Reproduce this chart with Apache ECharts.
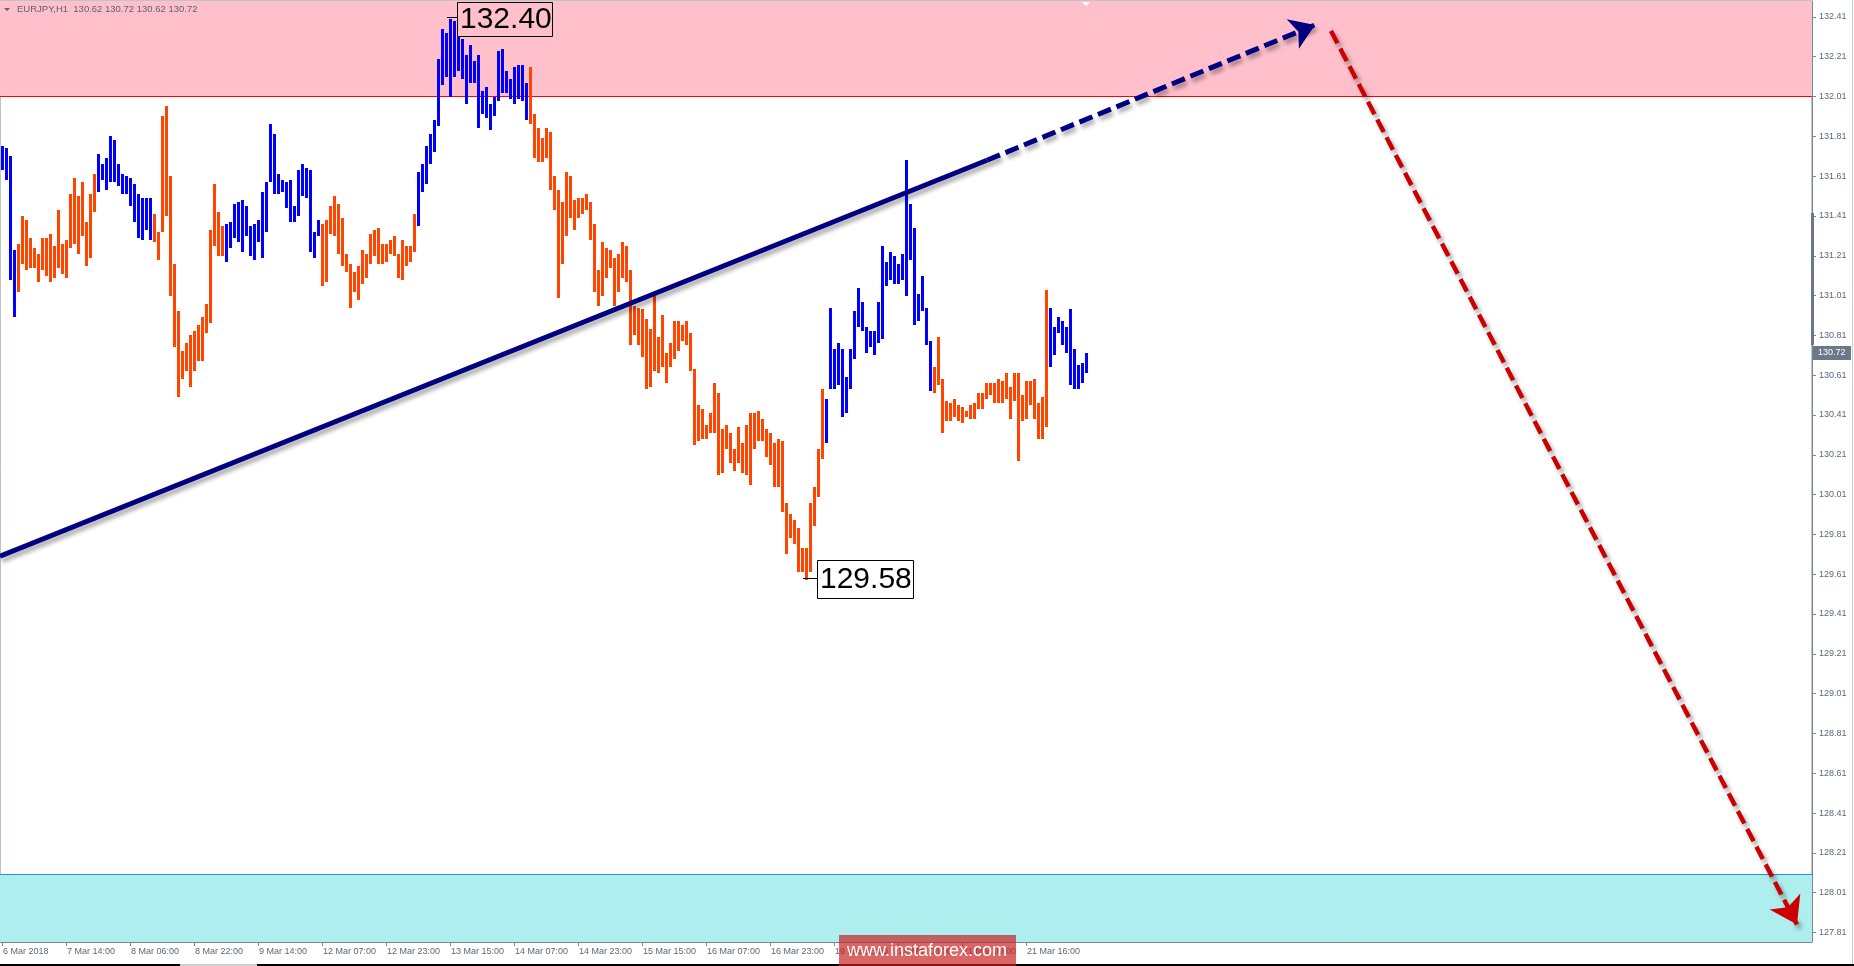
<!DOCTYPE html>
<html><head><meta charset="utf-8">
<script src="https://cdn.jsdelivr.net/npm/echarts@6/dist/echarts.min.js"></script>
<style>html,body{margin:0;padding:0;background:#fff}#c{width:1854px;height:966px}</style>
</head><body><div id="c"></div>
<script>
// ---- data (EURJPY H1 bars: high / low) ----
const highs = [
131.76,131.75,131.71,131.24,131.27,131.41,131.39,131.30,131.25,131.22,
131.30,131.30,131.32,131.26,131.44,131.27,131.29,131.52,131.60,131.51,
131.58,131.38,131.52,131.62,131.72,131.67,131.70,131.81,131.79,131.67,
131.62,131.61,131.60,131.57,131.52,131.50,131.50,131.50,131.42,131.33,
131.91,131.96,131.61,131.17,130.93,130.73,130.77,130.81,130.83,130.86,
130.90,130.97,131.34,131.57,131.43,131.36,131.37,131.38,131.47,131.48,
131.49,131.46,131.36,131.37,131.39,131.53,131.58,131.87,131.82,131.62,
131.59,131.58,131.59,131.46,131.64,131.67,131.65,131.64,131.33,131.39,
131.37,131.39,131.46,131.51,131.47,131.40,131.22,131.17,131.13,131.16,
131.24,131.22,131.32,131.34,131.35,131.27,131.27,131.29,131.31,131.22,
131.29,131.26,131.26,131.42,131.63,131.67,131.76,131.82,131.89,132.20,
132.35,132.33,132.40,132.39,132.31,132.30,132.22,132.27,132.19,132.22,
132.04,132.06,131.97,132.01,132.24,132.25,132.14,132.10,132.16,132.17,
132.17,132.08,132.16,131.92,131.85,131.80,131.85,131.83,131.61,131.54,
131.48,131.63,131.61,131.49,131.50,131.50,131.52,131.48,131.37,131.14,
131.28,131.25,131.24,131.20,131.22,131.28,131.26,131.14,130.96,130.95,
130.94,130.89,130.84,131.01,130.80,130.91,130.72,130.77,130.88,130.88,
130.86,130.88,130.82,130.64,130.46,130.44,130.36,130.42,130.57,130.52,
130.34,130.36,130.32,130.24,130.35,130.27,130.36,130.42,130.42,130.43,
130.39,130.34,130.32,130.27,130.29,130.28,129.97,129.91,129.88,129.84,
129.74,129.74,129.97,130.05,130.24,130.54,130.49,130.95,130.74,130.77,
130.74,130.60,130.74,130.93,131.05,130.98,130.85,130.83,130.83,130.98,
131.26,131.18,131.23,131.21,131.17,131.22,131.69,131.47,131.35,131.02,
131.11,130.95,130.78,130.65,130.80,130.59,130.48,130.47,130.49,130.46,
130.45,130.43,130.46,130.47,130.52,130.52,130.57,130.57,130.57,130.59,
130.58,130.62,130.55,130.62,130.62,130.51,130.58,130.58,130.59,130.47,
130.50,131.04,130.95,130.85,130.90,130.88,130.85,130.94,130.74,130.66,
130.67,130.72];
const lows = [
131.64,131.59,131.09,130.90,131.03,131.17,131.14,131.15,131.15,131.08,
131.14,131.11,131.08,131.10,131.15,131.12,131.10,131.25,131.27,131.22,
131.31,131.16,131.20,131.43,131.53,131.59,131.54,131.58,131.58,131.56,
131.52,131.52,131.46,131.38,131.30,131.29,131.34,131.29,131.28,131.19,
131.33,131.41,131.01,130.75,130.50,130.59,130.63,130.55,130.63,130.68,
130.68,130.82,130.87,131.26,131.21,131.21,131.18,131.25,131.30,131.28,
131.23,131.31,131.21,131.19,131.28,131.20,131.33,131.58,131.52,131.52,
131.53,131.45,131.38,131.38,131.41,131.51,131.50,131.23,131.20,131.31,
131.06,131.08,131.32,131.31,131.22,131.16,131.13,130.95,131.03,130.99,
131.07,131.10,131.17,131.21,131.17,131.17,131.18,131.22,131.21,131.10,
131.09,131.16,131.18,131.23,131.36,131.53,131.57,131.67,131.73,131.86,
132.07,132.11,132.01,132.11,132.14,132.10,131.97,132.08,132.08,131.85,
131.92,131.90,131.84,131.91,131.99,132.03,132.03,132.00,131.97,132.00,
131.99,131.89,131.87,131.70,131.68,131.68,131.70,131.54,131.44,131.00,
131.17,131.31,131.40,131.34,131.40,131.42,131.44,131.29,131.03,130.96,
131.01,131.10,131.15,130.96,131.03,131.10,131.08,130.76,130.81,130.76,
130.70,130.54,130.55,130.63,130.62,130.65,130.57,130.65,130.69,130.73,
130.78,130.76,130.63,130.26,130.28,130.29,130.29,130.32,130.32,130.11,
130.12,130.24,130.17,130.13,130.17,130.12,130.11,130.06,130.24,130.28,
130.28,130.20,130.16,130.05,130.05,129.92,129.71,129.79,129.76,129.62,
129.62,129.58,129.62,129.85,130.00,130.19,130.27,130.54,130.54,130.56,
130.40,130.42,130.54,130.69,130.85,130.83,130.72,130.75,130.71,130.77,
130.79,131.06,131.09,131.07,131.07,131.09,131.01,131.19,130.86,130.88,
130.93,130.76,130.53,130.52,130.56,130.32,130.38,130.38,130.40,130.38,
130.37,130.40,130.39,130.39,130.44,130.44,130.49,130.51,130.47,130.47,
130.47,130.49,130.39,130.48,130.18,130.38,130.39,130.46,130.39,130.29,
130.29,130.35,130.65,130.71,130.82,130.76,130.72,130.56,130.54,130.54,
130.57,130.62];
// wave colouring runs, alternating: blue (up wave) / orange (down wave)
const waveRuns = [4, 20, 14, 18, 24, 24, 28, 74, 27, 29, 10];

const xTickIdx = [0,16,32,48,64,80,96,112,128,144,160,176,192,208,224,240,256];
const xTickLabels = ['6 Mar 2018','7 Mar 14:00','8 Mar 06:00','8 Mar 22:00','9 Mar 14:00',
  '12 Mar 07:00','12 Mar 23:00','13 Mar 15:00','14 Mar 07:00','14 Mar 23:00','15 Mar 15:00',
  '16 Mar 07:00','16 Mar 23:00','19 Mar 16:00','20 Mar 08:00','21 Mar 00:00','21 Mar 16:00'];
const yTicks = [127.81,128.01,128.21,128.41,128.61,128.81,129.01,129.21,129.41,129.61,129.81,
  130.01,130.21,130.41,130.61,130.81,131.01,131.21,131.41,131.61,131.81,132.01,132.21,132.41];

const resistanceLevel = 132.01;   // pink zone from here up
const supportLevel = 128.10;      // cyan zone from here down
const trendSolid = [[-0.5, 129.70], [246.25, 131.69]];
const trendDashed = [[246.25, 131.69], [328.25, 132.37]];
const forecastPath = [[332.25, 132.34], [448.75, 127.85]];
const extremes = [[112, 132.40, 'hi'], [201, 129.58, 'lo']];
const lastPrice = 130.72;
const titleText = 'EURJPY,H1  130.62 130.72 130.62 130.72';

// ---- build ----
const BLUE = '#0000ff', ORANGE = '#ff4500';
const waveOf = [];
waveRuns.forEach((n, k) => { for (let j = 0; j < n; j++) waveOf.push(k % 2); });
const barData = highs.map((h, i) => [i, h, lows[i], waveOf[i]]);

const chart = echarts.init(document.getElementById('c'), null, {renderer: 'canvas'});
const FONT = 'Liberation Sans, Arial, sans-serif';
const AXC = '#788898', TXC = '#5a6878';

function renderBar(params, api) {
  const i = api.value(0);
  const t = api.coord([i, api.value(1)]);
  const b = api.coord([i, api.value(2)]);
  const x = Math.round(t[0] - 1.5);
  const y0 = Math.round(t[1]), y1 = Math.round(b[1]);
  return {type: 'rect', shape: {x: x, y: y0, width: 3, height: Math.max(1, y1 - y0)},
    style: {fill: api.value(3) ? ORANGE : BLUE}};
}

function renderExt(params, api) {
  const p = api.coord([api.value(0), api.value(1)]);
  const hi = params.dataIndex === 0;
  const txt = api.value(1).toFixed(2);
  const bx = Math.round(p[0]) + (hi ? 7 : 11);
  const by = Math.round(p[1]) + (hi ? -17 : -20);
  const bw = hi ? 95 : 96, bh = hi ? 34 : 38;
  const ly = Math.round(p[1]) - 2 + 0.5;
  return {type: 'group', children: [
    {type: 'line', shape: {x1: Math.round(p[0]) - 3, y1: ly, x2: bx, y2: ly}, style: {stroke: '#000', lineWidth: 1}},
    {type: 'rect', shape: {x: bx + 0.5, y: by + 0.5, width: bw, height: bh},
      style: {fill: hi ? 'rgba(0,0,0,0)' : '#fff', stroke: '#000', lineWidth: 1}},
    {type: 'text', style: {x: bx + 3, y: by + bh / 2 + 1, text: txt, fill: '#000',
      font: '30px ' + FONT, textVerticalAlign: 'middle', textAlign: 'left'}}
  ]};
}

function renderTag(params, api) {
  const cs = params.coordSys;
  const p = api.coord([0, api.value(1)]);
  const x = cs.x + cs.width + 1, y = Math.round(p[1]) - 7;
  return {type: 'group', children: [
    {type: 'rect', shape: {x: x, y: y, width: 38, height: 14}, style: {fill: '#6a7887'}},
    {type: 'text', style: {x: x + 5, y: y + 7, text: api.value(1).toFixed(2), fill: '#fff',
      font: '9px ' + FONT, textVerticalAlign: 'middle'}}
  ]};
}

const option = {
  animation: false,
  backgroundColor: '#fff',
  grid: {left: 0, top: 1, width: 1812, height: 941, show: true, borderColor: AXC, borderWidth: 1},
  xAxis: {
    type: 'value', min: -0.5, max: 452.5,
    axisLine: {show: true, onZero: false, lineStyle: {color: AXC}},
    axisTick: {show: true, customValues: xTickIdx, length: 4, lineStyle: {color: AXC}},
    axisLabel: {customValues: xTickIdx, color: TXC, fontSize: 9, fontFamily: FONT, align: 'left', margin: 5,
      padding: [0, 0, 0, 1],
      formatter: v => { const k = xTickIdx.indexOf(Math.round(v)); return k >= 0 ? xTickLabels[k] : ''; }},
    splitLine: {show: false}
  },
  yAxis: {
    type: 'value', position: 'right', min: 127.762, max: 132.49,
    axisLine: {show: true, onZero: false, lineStyle: {color: AXC}},
    axisTick: {show: true, customValues: yTicks, length: 4, lineStyle: {color: AXC}},
    axisLabel: {customValues: yTicks, color: TXC, fontSize: 9, fontFamily: FONT, margin: 7,
      formatter: v => v.toFixed(2)},
    splitLine: {show: false}
  },
  series: [
    {
      type: 'custom', name: 'bars', renderItem: renderBar, data: barData, z: 2,
      encode: {x: 0, y: [1, 2]},
      markArea: {silent: true, z: 1, data: [
        [{xAxis: -0.5, yAxis: resistanceLevel, itemStyle: {color: '#ffc0cb'}}, {xAxis: 452.5, yAxis: 132.49}],
        [{xAxis: -0.5, yAxis: 127.762, itemStyle: {color: '#afeeee'}}, {xAxis: 452.5, yAxis: supportLevel}]
      ]},
      markLine: {silent: true, z: 1, symbol: 'none', label: {show: false}, data: [
        {yAxis: resistanceLevel, lineStyle: {color: '#ff0000', width: 1, type: 'solid'}},
        {yAxis: supportLevel, lineStyle: {color: '#1e90ff', width: 1, type: 'solid'}}
      ]}
    },
    {
      type: 'line', name: 'trend', data: trendSolid, showSymbol: false, z: 5, silent: true,
      lineStyle: {color: '#000080', width: 5, cap: 'butt',
        shadowColor: 'rgba(0,0,0,0.35)', shadowBlur: 4, shadowOffsetX: 2, shadowOffsetY: 4}
    },
    {
      type: 'lines', coordinateSystem: 'cartesian2d', z: 5, silent: true,
      symbol: ['none', 'arrow'], symbolSize: 24,
      data: [{coords: trendDashed}],
      lineStyle: {color: '#000080', width: 5, type: [14, 6], opacity: 1,
        shadowColor: 'rgba(0,0,0,0.35)', shadowBlur: 4, shadowOffsetX: 2, shadowOffsetY: 4}
    },
    {
      type: 'lines', coordinateSystem: 'cartesian2d', z: 5, silent: true,
      symbol: ['none', 'arrow'], symbolSize: 26,
      data: [{coords: forecastPath}],
      lineStyle: {color: '#cc0000', width: 4.5, type: [14, 6], opacity: 1,
        shadowColor: 'rgba(0,0,0,0.35)', shadowBlur: 4, shadowOffsetX: 3, shadowOffsetY: 4}
    },
    {type: 'custom', name: 'extremes', renderItem: renderExt, data: extremes.map(e => [e[0], e[1]]), z: 6, silent: true},
    {type: 'custom', name: 'lastPrice', renderItem: renderTag, data: [[271, lastPrice]], z: 6, silent: true, clip: false}
  ],
  graphic: [
    {type: 'polygon', z: 100, shape: {points: [[4, 8], [10, 8], [7, 11]]}, style: {fill: '#5a6470'}},
    {type: 'text', z: 100, left: 17, top: 4, style: {text: titleText, fill: '#5a6470', font: '9.5px ' + FONT}},
    {type: 'polygon', z: 100, shape: {points: [[1082, 2], [1090, 2], [1086, 6]]}, style: {fill: '#fff'}},
    {type: 'rect', z: 100, shape: {x: 1811, y: 213, width: 3, height: 132}, style: {fill: '#6a7887'}},
    {type: 'rect', shape: {x: 839, y: 935, width: 177, height: 31}, style: {fill: 'rgba(200,30,30,0.68)'}, z: 50},
    {type: 'text', x: 927, y: 951, z: 51, style: {text: 'www.instaforex.com', fill: '#fff', font: '18px ' + FONT,
      textAlign: 'center', textVerticalAlign: 'middle'}},
    {type: 'rect', shape: {x: 0, y: 964, width: 1854, height: 2}, style: {fill: '#000'}, z: 40},
    {type: 'rect', shape: {x: 180, y: 964, width: 77, height: 2}, style: {fill: '#d0d0d0'}, z: 41},
    {type: 'rect', shape: {x: 1852, y: 0, width: 1, height: 964}, style: {fill: '#c8ccd0'}}
  ]
};
chart.setOption(option);
</script>
</body></html>
